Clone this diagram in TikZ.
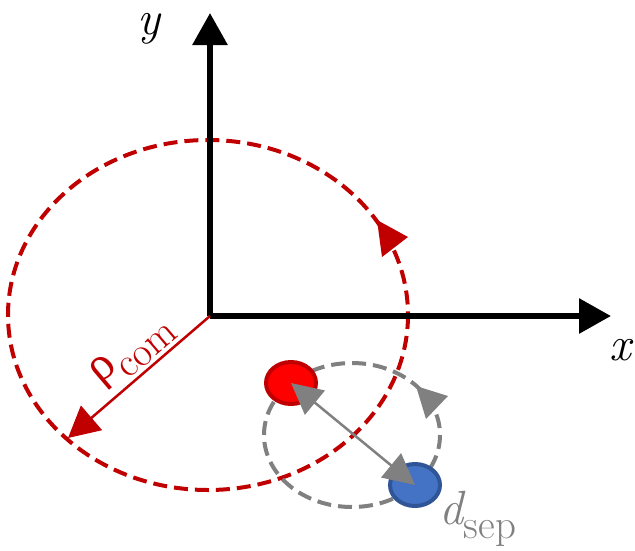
\documentclass[tikz,border=0pt]{standalone}
\usepackage{fontspec}
\newfontfamily\greekfont{Liberation Serif}
\usetikzlibrary{arrows.meta,shapes.geometric}
\definecolor{darkred}{HTML}{C00000}
\definecolor{ballred}{HTML}{FF0000}
\definecolor{ballblue}{HTML}{4472C4}
\definecolor{ballblueedge}{HTML}{2F5597}
\definecolor{sepgray}{HTML}{808080}
\newcommand{\subtxt}[1]{\raisebox{-0.3em}{\fontsize{41}{46}\selectfont #1}}
\begin{document}
\begin{tikzpicture}[x=1pt,y=-1pt,
  axis/.style={line width=6pt,-{Triangle[length=32pt,width=34pt]}},
  orbit/.style={line width=4pt,dash pattern=on 14pt off 7pt},
  lbl/.style={font=\fontsize{48}{56}\selectfont,inner sep=0pt},
  ball/.style={ellipse,line width=4pt,minimum width=50pt,minimum height=42pt,inner sep=0pt}
]
\useasboundingbox (0,0) rectangle (635,550);
\coordinate (O) at (210,316);
\coordinate (ytip) at (210,13);
\coordinate (xtip) at (611,316);
% orbits
\draw[orbit,darkred] (208,315) ellipse [x radius=200, y radius=175];
\fill[darkred] (377,220) -- (408,237) -- (382,257) -- cycle;
\draw[orbit,sepgray] (352,435) ellipse [x radius=88, y radius=72];
\fill[sepgray] (416,386) -- (448,396) -- (426,419) -- cycle;
% axes
\draw[axis] (O) -- (ytip);
\draw[axis] (O) -- (xtip);
\node[lbl] (ylab) at (149,29) {\itshape y};
\node[lbl] (xlab) at (620,350) {\itshape x};
% rho arrow
\coordinate (rtip) at (68,438);
\draw[darkred,line width=2.5pt,-{Triangle[length=31pt,width=32pt]}] (O) -- (rtip);
\node[lbl,text=darkred,rotate=40.4] (rho) at (133,352) {{\greekfont ρ}\subtxt{com}};
% balls
\node[ball,draw=darkred,fill=ballred] (red) at (291,383) {};
\node[ball,draw=ballblueedge,fill=ballblue] (blue) at (415,485) {};
\draw[sepgray,line width=2.5pt,{Triangle[length=31pt,width=31pt]}-{Triangle[length=31pt,width=31pt]}] (red.center) -- (blue.center);
\node[lbl,text=sepgray] (dsep) at (478,519) {{\itshape d}\subtxt{sep}};
\end{tikzpicture}
\end{document}
